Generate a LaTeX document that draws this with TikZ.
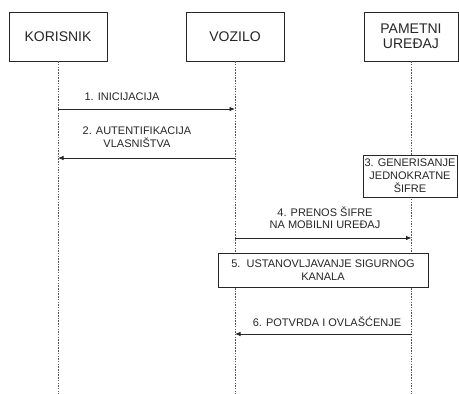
\documentclass[tikz,border=0pt]{standalone}
\usepackage{fontspec}
\setmainfont{Liberation Sans}
\usetikzlibrary{arrows.meta}
\tikzstyle{actor} = [draw=black!85, fill=white, minimum width=98pt, minimum height=49pt, inner sep=0pt, align=center, font=\fontsize{14}{15.5}\selectfont, text=black!85]
\tikzstyle{stepbox} = [draw=black!85, fill=white, inner sep=0pt, align=center, font=\fontsize{11}{13}\selectfont, text=black!85]
\tikzstyle{lifeline} = [black!65, line width=0.6pt, dash pattern=on 1.5pt off 1.2pt]
\tikzstyle{msg} = [black!85, line width=0.8pt, -{Latex[length=5.5pt,width=4.5pt]}]
\tikzstyle{lbl} = [align=center, inner sep=0pt, font=\fontsize{11}{12.5}\selectfont, text=black!85]

\begin{document}
\begin{tikzpicture}[x=1pt, y=-1pt]
        \useasboundingbox (0,0) rectangle (459,394);
        % Actors
        \node[actor] (kor) at (58,36.5) {KORISNIK};
        \node[actor] (voz) at (235,36.5) {VOZILO};
        \node[actor, minimum width=94pt] (pam) at (411,36.5) {PAMETNI\\UREĐAJ};

        % Lifelines
        \coordinate (korEnd) at (58,394);
        \coordinate (vozEnd) at (235,394);
        \coordinate (pamEnd) at (411.5,394);
        \draw[lifeline] (kor.south) -- (korEnd);
        \draw[lifeline] (voz.south) -- (vozEnd);
        \draw[lifeline] (pam.south -| pamEnd) -- (pamEnd);

        % Message points
        \coordinate (k1) at (58,109);
        \coordinate (v1) at (235,109);
        \coordinate (k2) at (58,158);
        \coordinate (v2) at (235,158);
        \coordinate (v4) at (235,238);
        \coordinate (p4) at (411.5,238);
        \coordinate (v6) at (235,334);
        \coordinate (p6) at (411.5,334);

        % Messages
        \draw[msg] (k1) -- (v1);
        \node[lbl] (l1) at (122,97) {1. INICIJACIJA};
        \draw[msg] (v2) -- (k2);
        \node[lbl] (l2) at (137,137) {2. AUTENTIFIKACIJA\\VLASNIŠTVA};
        \node[stepbox, minimum width=94pt, minimum height=42pt] (gen) at (410,176) {3. GENERISANJE\\JEDNOKRATNE\\ŠIFRE};
        \draw[msg] (v4) -- (p4);
        \node[lbl] (l4) at (325,217.5) {4. PRENOS ŠIFRE\\NA MOBILNI UREĐAJ};
        \node[stepbox, minimum width=210pt, minimum height=34pt] (kan) at (323,270) {5.\ \ USTANOVLJAVANJE SIGURNOG\\KANALA};
        \draw[msg] (p6) -- (v6);
        \node[lbl] (l6) at (327,322) {6. POTVRDA I OVLAŠĆENJE};
\end{tikzpicture}
\end{document}
